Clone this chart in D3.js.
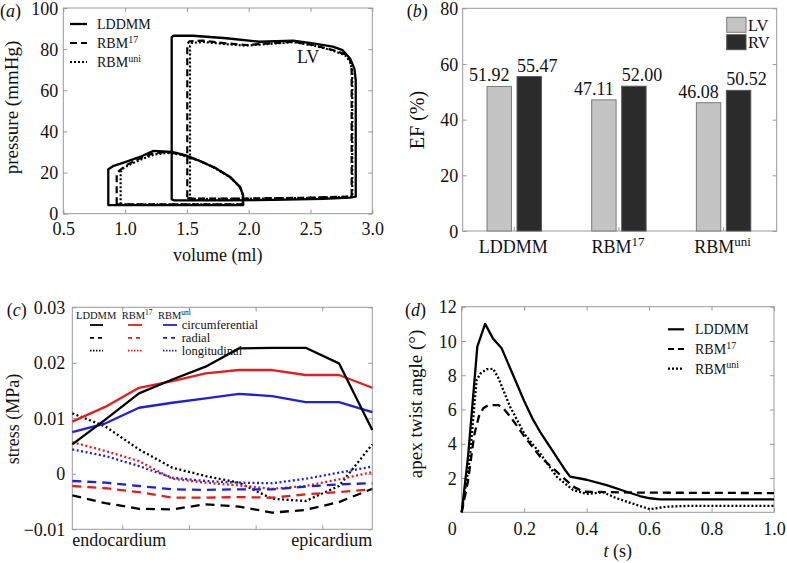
<!DOCTYPE html>
<html><head><meta charset="utf-8">
<script src="https://cdn.jsdelivr.net/npm/d3@7"></script>
<style>
body{margin:0;background:#fff}
svg{display:block;font-family:"Liberation Serif","DejaVu Serif",serif}
svg text{font-family:"Liberation Serif","DejaVu Serif",serif;fill:#111}
</style>
</head><body>
<script>
// ---------- Panel (a): pressure-volume loops [volume ml, pressure mmHg] ----------
const pvLV_LDDMM = [[1.377,7.0],[1.40,6.5],[1.8,6.5],[2.2,6.7],[2.6,7.2],[2.82,7.8],[2.866,8.3],[2.866,65],[2.855,70.5],[2.82,75.5],[2.76,79.5],[2.68,81.2],[2.52,82.8],[2.36,84.1],[2.09,83.6],[1.82,85.3],[1.55,86.5],[1.39,86.5],[1.377,85.8]];
const pvLV_RBM17 = [[1.503,7.6],[1.53,7.3],[2.0,7.4],[2.5,7.8],[2.833,8.4],[2.833,69.9],[2.82,74.7],[2.78,77.5],[2.68,79.6],[2.52,82.0],[2.36,83.6],[2.09,82.5],[1.98,82.0],[1.82,82.8],[1.63,84.1],[1.52,83.8],[1.503,82.5]];
const pvLV_RBMuni = [[1.525,7.5],[1.55,7.2],[2.0,7.3],[2.5,7.7],[2.838,8.3],[2.838,69],[2.82,74],[2.78,77],[2.68,79.3],[2.52,81.8],[2.36,83.4],[2.09,82.2],[1.98,81.7],[1.82,82.4],[1.63,83.5],[1.54,83.0],[1.525,81.5]];
const pvRV_LDDMM = [[0.864,4.2],[0.864,21.6],[0.902,23.1],[1.0,25.1],[1.12,27.6],[1.226,30.5],[1.38,30.0],[1.485,28.5],[1.606,25.6],[1.73,22.2],[1.85,17.8],[1.93,13.0],[1.954,9.1],[1.956,4.2]];
const pvRV_RBM17 = [[0.932,4.6],[0.932,19.6],[0.959,21.2],[1.013,23.7],[1.12,26.9],[1.228,29.4],[1.337,30.0],[1.45,28.9],[1.6,25.8],[1.73,22.2],[1.85,17.8],[1.93,13.0],[1.954,9.1],[1.954,4.6]];
const pvRV_RBMuni = [[0.964,4.6],[0.964,20.4],[0.99,22.3],[1.05,24.3],[1.14,26.6],[1.24,28.8],[1.34,29.6],[1.45,28.7],[1.6,25.7],[1.73,22.1],[1.85,17.7],[1.93,12.9],[1.952,9.0],[1.952,4.6]];
const pvVolTicks = [0.5,1.0,1.5,2.0,2.5,3.0];
const pvPressTicks = [0,20,40,60,80,100];

// ---------- Panel (b): ejection fraction ----------
const efCategories = ["LDDMM","RBM17","RBMuni"];
const efLV = [51.92,47.11,46.08];
const efRV = [55.47,52.00,50.52];
const efTicks = [0,20,40,60,80];

// ---------- Panel (c): stress across wall (10 positions, endo -> epi) ----------
const stressPos = [0,1,2,3,4,5,6,7,8,9];
const circLDDMM = [0.0053,0.0098,0.0145,0.0170,0.0193,0.0226,0.0227,0.0227,0.0199,0.0079];
const circRBM17 = [0.0094,0.0121,0.0155,0.0167,0.0181,0.0187,0.0187,0.0178,0.0178,0.0155];
const circRBMuni = [0.0075,0.0091,0.0119,0.0128,0.0136,0.0144,0.0140,0.0129,0.0129,0.0111];
const radLDDMM = [-0.0039,-0.0053,-0.0063,-0.0064,-0.0055,-0.0059,-0.0070,-0.0065,-0.0051,-0.0027];
const radRBM17 = [-0.0022,-0.0026,-0.0033,-0.0043,-0.0043,-0.0042,-0.0043,-0.0037,-0.0033,-0.0028];
const radRBMuni = [-0.0013,-0.0016,-0.0022,-0.0028,-0.0029,-0.0028,-0.0028,-0.0023,-0.0019,-0.0017];
const longLDDMM = [0.0109,0.0085,0.0044,0.0011,-0.0004,-0.0016,-0.0045,-0.0049,-0.0022,0.0053];
const longRBM17 = [0.0057,0.0041,0.0023,-0.0009,-0.0016,-0.0021,-0.0027,-0.0022,-0.0010,0.0003];
const longRBMuni = [0.0044,0.0032,0.0014,-0.0007,-0.0013,-0.0016,-0.0017,-0.0009,0.0002,0.0013];
const stressTicks = [-0.01,0,0.01,0.02,0.03];
const stressPosTicks = [1.5,3.5,5.5,7.5];

// ---------- Panel (d): apex twist angle [t s, degrees] ----------
const twistLDDMM = [[0,0],[0.02,3.2],[0.035,6.4],[0.05,9.67],[0.075,11.0],[0.1,10.15],[0.128,9.57],[0.16,8.2],[0.2,6.5],[0.229,5.39],[0.251,4.70],[0.33,2.5],[0.347,2.08],[0.4,1.9],[0.464,1.59],[0.528,1.2],[0.57,0.95],[0.603,0.82],[0.635,0.76],[1.0,0.76]];
const twistRBM17 = [[0,0],[0.02,1.8],[0.04,4.5],[0.055,5.6],[0.069,6.07],[0.085,6.26],[0.117,6.26],[0.133,6.07],[0.155,5.6],[0.2,4.45],[0.251,3.25],[0.304,2.37],[0.357,1.5],[0.39,1.2],[0.464,1.18],[0.56,1.15],[1.0,1.12]];
const twistRBMuni = [[0,0],[0.025,3.0],[0.042,6.56],[0.048,7.72],[0.06,8.1],[0.08,8.35],[0.101,8.37],[0.118,7.82],[0.133,7.14],[0.155,6.16],[0.2,4.6],[0.251,3.44],[0.304,2.08],[0.357,1.3],[0.4,1.07],[0.453,1.17],[0.496,0.82],[0.56,0.43],[0.603,0.18],[0.656,0.33],[0.72,0.37],[1.0,0.37]];
const twistTTicks = [0,0.2,0.4,0.6,0.8,1.0];
const twistATicks = [2,4,6,8,10,12];

// ---------- drawing ----------
const FONT = '"Liberation Serif","DejaVu Serif",serif';
const svg = d3.select("body").append("svg").attr("width",787).attr("height",563)
  .attr("font-family",FONT);

function styleAxis(ax, size){
  ax.attr("font-family",FONT).attr("font-size",null);
  ax.select(".domain").remove();
  ax.selectAll(".tick line").attr("stroke","#999");
  ax.selectAll(".tick text").attr("font-size",size||18).attr("fill","#111").attr("font-family",FONT);
}
function frame(x, y, xTicks, yTicks, xFmt, yFmt, xPad, yPad){
  const [x0,x1] = x.range(), [yb,yt] = y.range();
  const g = svg.append("g");
  g.append("rect").attr("x",x0).attr("y",yt).attr("width",x1-x0).attr("height",yb-yt)
    .attr("fill","none").attr("stroke","#999").attr("stroke-width",1);
  const b = g.append("g").attr("transform",`translate(0,${yb})`)
    .call(d3.axisBottom(x).tickValues(xTicks).tickSizeInner(-4).tickSizeOuter(0).tickPadding(xPad).tickFormat(xFmt));
  styleAxis(b);
  const t = g.append("g").attr("transform",`translate(0,${yt})`)
    .call(d3.axisTop(x).tickValues(xTicks).tickSizeInner(-4).tickSizeOuter(0).tickFormat(""));
  styleAxis(t);
  const l = g.append("g").attr("transform",`translate(${x0},0)`)
    .call(d3.axisLeft(y).tickValues(yTicks).tickSizeInner(-4).tickSizeOuter(0).tickPadding(yPad).tickFormat(yFmt));
  styleAxis(l);
  l.selectAll(".tick text").attr("dy","0.34em");
  const r = g.append("g").attr("transform",`translate(${x1},0)`)
    .call(d3.axisRight(y).tickValues(yTicks).tickSizeInner(-4).tickSizeOuter(0).tickFormat(""));
  styleAxis(r);
  return {g,b,l};
}
function panelLabel(x, y, letter){
  const t = svg.append("text").attr("x",x).attr("y",y).attr("font-size",18);
  t.append("tspan").text("(");
  t.append("tspan").attr("font-style","italic").text(letter);
  t.append("tspan").text(")");
}
function supText(parent, x, y, base, sup, size, supSize, anchor){
  const t = parent.append("text").attr("x",x).attr("y",y).attr("font-size",size).attr("text-anchor",anchor||"start");
  t.append("tspan").text(base);
  if(sup) t.append("tspan").attr("font-size",supSize).attr("dy",-size*0.38).text(sup);
  return t;
}
function yTitle(x, y, txt, size){
  svg.append("text").attr("transform",`translate(${x},${y}) rotate(-90)`).attr("text-anchor","middle")
    .attr("font-size",size||19).text(txt);
}

// ===== Panel (a) =====
const xA = d3.scaleLinear([0.5,3.0],[63.3,372.3]);
const yA = d3.scaleLinear([0,100],[213.7,8]);
frame(xA, yA, pvVolTicks, pvPressTicks, d3.format(".1f"), d3.format("d"), 8.5, 5);
const loopA = d3.line().x(d=>xA(d[0])).y(d=>yA(d[1])).curve(d3.curveLinearClosed);
const styleSolid = {w:2.3, dash:null}, styleDash = {w:2.2, dash:"7,4"}, styleDot = {w:2.2, dash:"2,2"};
[[pvLV_LDDMM,styleSolid],[pvRV_LDDMM,styleSolid],[pvLV_RBM17,styleDash],[pvRV_RBM17,styleDash],[pvLV_RBMuni,styleDot],[pvRV_RBMuni,styleDot]]
  .forEach(([d,s])=>{
    svg.append("path").attr("d",loopA(d)).attr("fill","none").attr("stroke","#000")
      .attr("stroke-width",s.w).attr("stroke-dasharray",s.dash).attr("stroke-linejoin","round");
  });
svg.append("text").attr("x",xA(2.39)).attr("y",yA(73.3)).attr("font-size",18).text("LV");
const legA = [["LDDMM",null,styleSolid],["RBM","17",styleDash],["RBM","uni",styleDot]];
legA.forEach(([b,s,st],i)=>{
  const yy = 24 + i*19;
  svg.append("line").attr("x1",70).attr("x2",87).attr("y1",yy).attr("y2",yy).attr("stroke","#000")
    .attr("stroke-width",st.w).attr("stroke-dasharray",st.dash);
  supText(svg, 97, yy+5, b, s, 14, 10);
});
svg.append("text").attr("x",(63.3+372.3)/2).attr("y",261).attr("text-anchor","middle").attr("font-size",18).text("volume (ml)");
yTitle(18, 107.5, "pressure (mmHg)", 19);
panelLabel(0, 17, "a");

// ===== Panel (b) =====
const xB = d3.scaleBand(efCategories,[462.7,776.7]);
const yB = d3.scaleLinear([0,80],[231,8.3]);
const fb = frame(d3.scaleLinear([0,1],[462.7,776.7]), yB, [], efTicks, "", d3.format("d"), 8, 4.4);
const sub = d3.scaleBand(["LV","RV"],[0,54.4]).paddingInner(0.187);
const center = c => xB(c) + xB.bandwidth()/2 - 0.8;
svg.append("g").selectAll("line").data(efCategories).join("line")
  .attr("x1",d=>center(d)).attr("x2",d=>center(d)).attr("y1",231).attr("y2",227).attr("stroke","#999");
const barData = [];
efCategories.forEach((c,i)=>{ barData.push({c,k:"LV",v:efLV[i]}); barData.push({c,k:"RV",v:efRV[i]}); });
svg.append("g").selectAll("rect").data(barData).join("rect")
  .attr("x",d=>center(d.c)-27.2+sub(d.k)).attr("width",sub.bandwidth())
  .attr("y",d=>yB(d.v)).attr("height",d=>yB(0)-yB(d.v))
  .attr("fill",d=>d.k==="LV"?"#c4c4c4":"#2b2b2b").attr("stroke",d=>d.k==="LV"?"#7a7a7a":"#555").attr("stroke-width",1);
svg.append("g").selectAll("text").data(barData).join("text")
  .attr("x",d=>center(d.c)-27.2+sub(d.k)+sub.bandwidth()/2+(d.k==="LV"?-10:8))
  .attr("y",d=>yB(d.v)-5).attr("text-anchor","middle").attr("font-size",18)
  .text(d=>d3.format(".2f")(d.v));
const catParts = {"LDDMM":["LDDMM",null],"RBM17":["RBM","17"],"RBMuni":["RBM","uni"]};
efCategories.forEach(c=>{
  const [b,s] = catParts[c];
  supText(svg, center(c)-1, 252.5, b, s, 18, 13, "middle");
});
[["LV","#c4c4c4","#7a7a7a"],["RV","#2b2b2b","#555"]].forEach(([k,f,st],i)=>{
  svg.append("rect").attr("x",726.7).attr("y",17.3+i*17.4).attr("width",19.3).attr("height",15)
    .attr("fill",f).attr("stroke",st);
  svg.append("text").attr("x",748).attr("y",30.5+i*17.4).attr("font-size",16.5).text(k);
});
yTitle(424, 120, "EF (%)", 20);
panelLabel(406.7, 17, "b");

// ===== Panel (c) =====
const xC = d3.scaleLinear([0,9],[72.3,372.3]);
const yC = d3.scaleLinear([-0.01,0.03],[529.3,307.3]);
const stressFmt = d => d===0 ? "0" : d3.format(".2f")(d);
frame(xC, yC, stressPosTicks, stressTicks, "", stressFmt, 8, 7);
const RED = "#e41e1e", BLUE = "#2020d6";
const lineC = d3.line().x((d,i)=>xC(stressPos[i])).y(d=>yC(d));
const dashC = {solid:null, dash:"9,6", dot:"2,2.5"};
const seriesC = [
  [longLDDMM,"#000","dot"],[longRBM17,RED,"dot"],[longRBMuni,BLUE,"dot"],
  [radLDDMM,"#000","dash"],[radRBM17,RED,"dash"],[radRBMuni,BLUE,"dash"],
  [circRBMuni,BLUE,"solid"],[circRBM17,RED,"solid"],[circLDDMM,"#000","solid"]
];
seriesC.forEach(([d,col,st])=>{
  svg.append("path").attr("d",lineC(d)).attr("fill","none").attr("stroke",col)
    .attr("stroke-width",2.3).attr("stroke-dasharray",dashC[st]).attr("stroke-linejoin","round");
});
supText(svg, 76, 318.5, "LDDMM", null, 10.5, 7.5);
supText(svg, 121.7, 318.5, "RBM", "17", 10.5, 7.5);
supText(svg, 158, 318.5, "RBM", "uni", 10.5, 7.5);
const legCols = [["#000",90,103],[RED,128,142],[BLUE,163,177]];
const legRows = [["circumferential","solid"],["radial","dash"],["longitudinal","dot"]];
legRows.forEach(([lab,st],r)=>{
  const yy = 325 + r*12.8;
  legCols.forEach(([col,a,b])=>{
    svg.append("line").attr("x1",a).attr("x2",b).attr("y1",yy).attr("y2",yy).attr("stroke",col)
      .attr("stroke-width",1.8).attr("stroke-dasharray",st==="dash"?"4,4":(st==="dot"?"1.5,1.5":null));
  });
  svg.append("text").attr("x",181.7).attr("y",yy+4).attr("font-size",12.5).text(lab);
});
svg.append("text").attr("x",72.3).attr("y",546).attr("font-size",18).text("endocardium");
svg.append("text").attr("x",372.3).attr("y",546).attr("text-anchor","end").attr("font-size",18).text("epicardium");
yTitle(19, 419, "stress (MPa)", 18);
panelLabel(6.7, 316, "c");

// ===== Panel (d) =====
const xD = d3.scaleLinear([0,1],[461.7,774]);
const yD = d3.scaleLinear([0,12],[512.3,306.7]);
const twFmt = d => d===0 ? "0" : d3.format(".1f")(d);
const fd = frame(xD, yD, twistTTicks, twistATicks, twFmt, d3.format("d"), 9.5, 5);
fd.b.selectAll(".tick text").filter(d=>d===0).attr("dx",-10);
const lineD = d3.line().x(d=>xD(d[0])).y(d=>yD(d[1]));
const dStyles = [[twistRBMuni,"2,2"],[twistRBM17,"8,5"],[twistLDDMM,null]];
dStyles.forEach(([d,dash])=>{
  svg.append("path").attr("d",lineD(d)).attr("fill","none").attr("stroke","#000")
    .attr("stroke-width",2.3).attr("stroke-dasharray",dash).attr("stroke-linejoin","round");
});
const legD = [["LDDMM",null,null],["RBM","17","6,4"],["RBM","uni","2,2"]];
legD.forEach(([b,s,dash],i)=>{
  const yy = 329.3 + i*19.7;
  svg.append("line").attr("x1",668).attr("x2",684).attr("y1",yy).attr("y2",yy).attr("stroke","#000")
    .attr("stroke-width",2.2).attr("stroke-dasharray",dash);
  supText(svg, 695, yy+5, b, s, 14, 10);
});
const tl = svg.append("text").attr("x",(461.7+774)/2).attr("y",557).attr("text-anchor","middle").attr("font-size",18);
tl.append("tspan").attr("font-style","italic").text("t");
tl.append("tspan").text(" (s)");
yTitle(422, 404, "apex twist angle (°)", 19);
panelLabel(405, 316, "d");
</script>
</body></html>
